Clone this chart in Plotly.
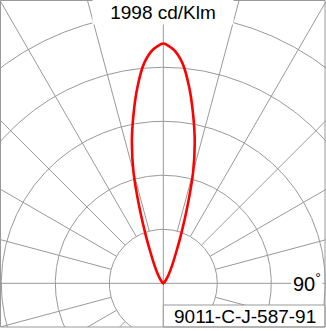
import numpy as np
import plotly.graph_objects as go

# ---- data ----
# angle from the vertical axis in degrees (negative = left), luminous intensity in cd/klm
angles_deg = [-90, -60, -50, -40, -35, -30, -27.5, -25, -22.5, -20, -17.5, -15, -12.5, -10, -7.5, -5, -2.5,
              0, 2.5, 5, 7.5, 10, 12.5, 15, 17.5, 20, 22.5, 25, 27.5, 30, 35, 40, 50, 60, 90]
intensity = [0, 0, 10, 28, 55, 100, 140, 195, 280, 430, 660, 960, 1210, 1430, 1650, 1840, 1950,
             1998, 1950, 1840, 1650, 1430, 1210, 960, 660, 430, 280, 195, 140, 100, 55, 28, 10, 0, 0]

grid_radii = [450, 900, 1350, 1800, 2250]          # cd/klm
spoke_angles = list(range(0, 360, 15))              # degrees
peak_label = "1998 cd/Klm"
angle_label = "90<sup>°</sup>"
code_label = "9011-C-J-587-91"

# ---- layout geometry ----
W, H = 326, 331
bottom_px = 327                # plot area ends here; white strip below
cx, cy = 163.3, 283.3          # pixel position of the pole
scale = 54 / 450               # pixels per cd/klm
xr = [-cx / scale, (W - cx) / scale]
yr = [(cy - bottom_px) / scale, cy / scale]

GRID = "#999999"
FONT = "Liberation Sans, Arial, sans-serif"

fig = go.Figure()

# concentric circles
t = np.linspace(0, 2 * np.pi, 721)
cxs, cys = [], []
for r in grid_radii:
    cxs += list(r * np.sin(t)) + [None]
    cys += list(r * np.cos(t)) + [None]
fig.add_trace(go.Scatter(x=cxs, y=cys, mode="lines", line=dict(color=GRID, width=1),
                         hoverinfo="skip", showlegend=False))

# radial spokes
sx, sy = [], []
far = 6000
for a in spoke_angles:
    r0 = 0 if a % 90 == 0 else grid_radii[0]
    ar = np.deg2rad(a)
    sx += [r0 * np.sin(ar), far * np.sin(ar), None]
    sy += [r0 * np.cos(ar), far * np.cos(ar), None]
fig.add_trace(go.Scatter(x=sx, y=sy, mode="lines", line=dict(color=GRID, width=1),
                         hoverinfo="skip", showlegend=False))

# intensity curve
th = np.deg2rad(np.array(angles_deg, dtype=float))
I = np.array(intensity, dtype=float)
fig.add_trace(go.Scatter(x=I * np.sin(th), y=I * np.cos(th), mode="lines",
                         line=dict(color="#ff0000", width=2.6, shape="spline", smoothing=0.7),
                         hoverinfo="skip", showlegend=False))

def px(x):
    return x / W

def py(y):
    return 1 - y / H

fig.update_layout(
    width=W, height=H,
    margin=dict(l=0, r=0, t=0, b=0),
    paper_bgcolor="white", plot_bgcolor="white",
    xaxis=dict(range=xr, visible=False, fixedrange=True),
    yaxis=dict(range=yr, visible=False, fixedrange=True, domain=[1 - bottom_px / H, 1]),
    shapes=[
        dict(type="rect", xref="paper", yref="paper",
             x0=px(cx), x1=px(325), y0=py(327), y1=py(305),
             fillcolor="white", line=dict(color=GRID, width=1), layer="above"),
        dict(type="rect", xref="paper", yref="paper",
             x0=px(0.5), x1=px(325), y0=py(327), y1=py(0.5),
             line=dict(color=GRID, width=1), layer="above"),
    ],
    annotations=[
        dict(text=peak_label, xref="paper", yref="paper", x=px(cx), y=py(12.5),
             xanchor="center", yanchor="middle", showarrow=False,
             font=dict(family=FONT, size=19, color="black"),
             bgcolor="white", width=138, height=22),
        dict(text=angle_label, xref="paper", yref="paper", x=px(323), y=py(282),
             xanchor="right", yanchor="middle", showarrow=False,
             font=dict(family=FONT, size=20, color="black"),
             bgcolor="white", borderpad=1),
        dict(text=code_label, xref="paper", yref="paper", x=px(245), y=py(316),
             xanchor="center", yanchor="middle", showarrow=False,
             font=dict(family=FONT, size=19, color="black")),
    ],
)

fig.write_html("out.html")
